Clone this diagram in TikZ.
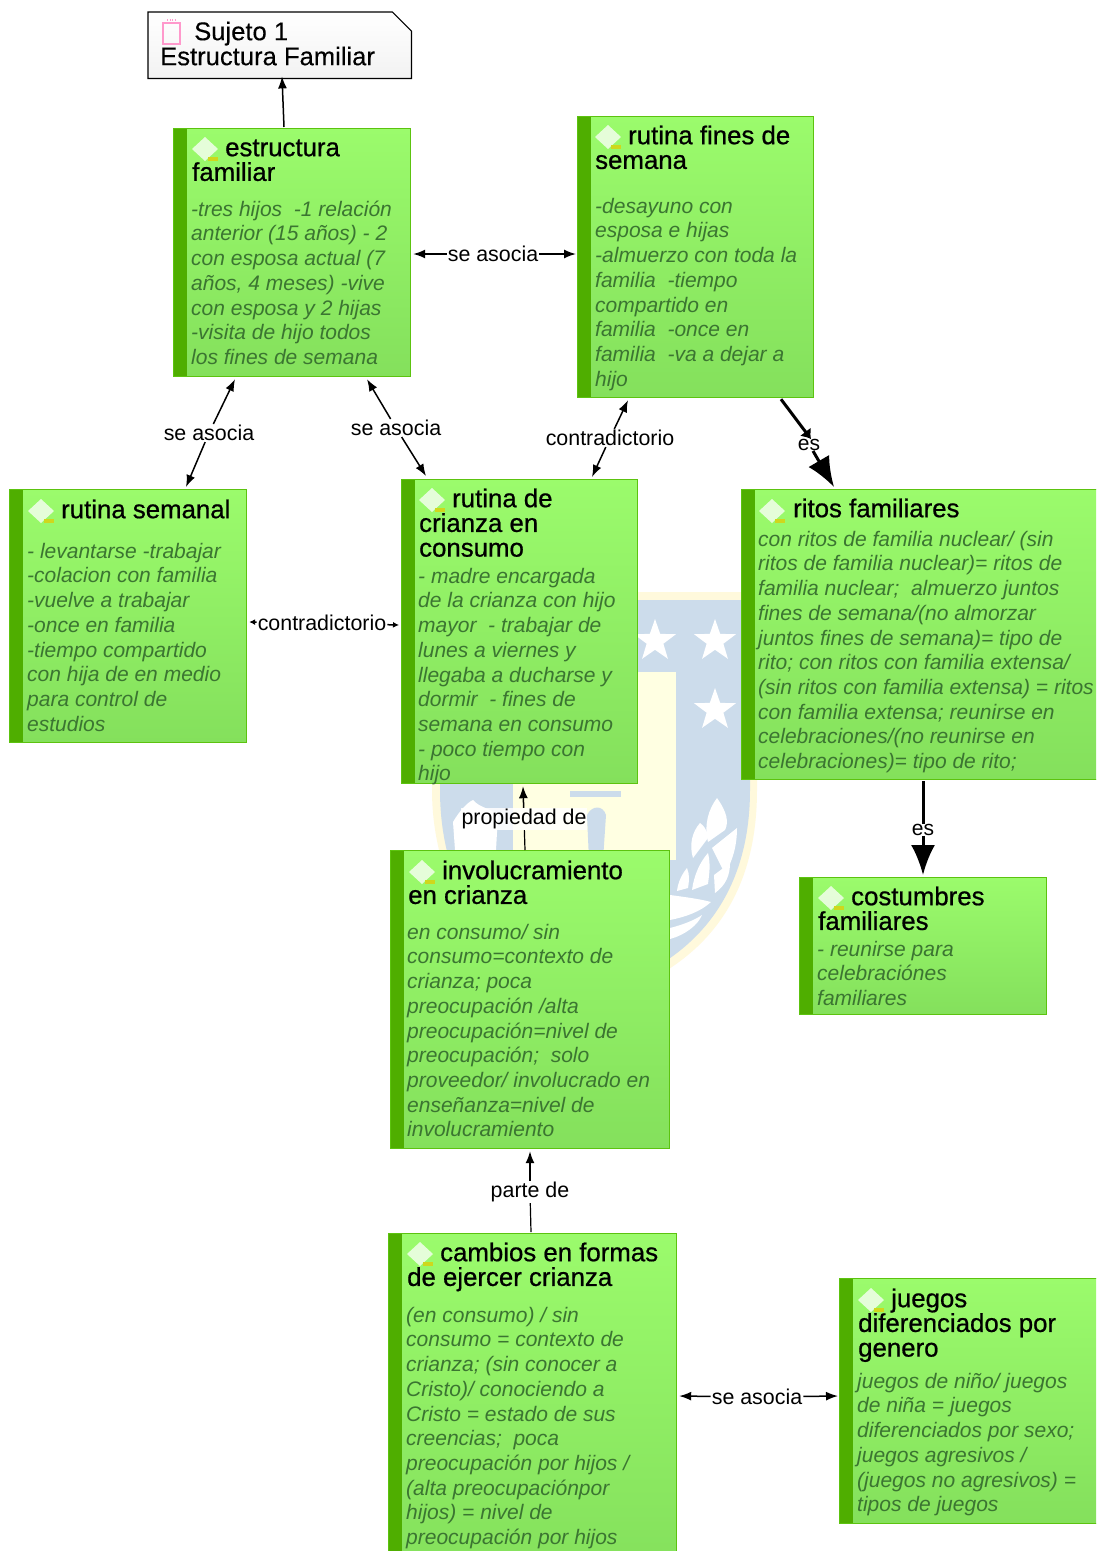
\documentclass[tikz,border=0pt]{standalone}
\usepackage{fontspec}
\setmainfont{Liberation Sans}
\newfontfamily\ttlfont[FakeBold=0.7]{Liberation Sans}
\newfontfamily\notefont[FakeBold=0.3]{Liberation Sans}
\usetikzlibrary{calc,shapes.geometric,arrows.meta}
\definecolor{gtop}{HTML}{9BFB6C}
\definecolor{gbot}{HTML}{84E05C}
\definecolor{gbar}{HTML}{4FAE00}
\definecolor{gedge}{HTML}{5CC30F}
\definecolor{gbody}{HTML}{3B7531}
\definecolor{wblue}{HTML}{CCDCEB}
\definecolor{wyel}{HTML}{FFF9DC}
\definecolor{wcream}{HTML}{FFFFE2}
\tikzset{
  gbox/.style={draw=gedge,line width=1.2pt,top color=gtop,bottom color=gbot,anchor=north west,inner sep=0pt,
    path picture={\fill[gbar] (path picture bounding box.north west) rectangle ([xshift=13pt]path picture bounding box.south west);}},
  ttl/.style={anchor=north west,inner sep=0pt,align=left,text=black,font=\ttlfont\fontsize{25.8}{24.7}\selectfont},
  bodyt/.style={anchor=north west,inner sep=0pt,align=left,text=gbody,font=\itshape\fontsize{21}{24.7}\selectfont},
  lab/.style={inner sep=1pt,fill=white,fill opacity=.85,text opacity=1,text=black,font=\fontsize{21.4}{24}\selectfont},
  link/.style={draw=black,line width=1.5pt,-{Latex[length=12pt,width=9pt]}},
  thin link/.style={draw=black,line width=1.2pt},
  heavy/.style={draw=black,line width=3pt,-{Latex[length=30pt,width=24pt]}},
  staru/.style={star,star points=5,star point ratio=2.5,fill=white,inner sep=0pt,minimum size=44pt},
  leafw/.style={fill=white},
}
\newcommand{\icn}[2]{%
  \fill[white,opacity=.75] (#1-13,#2) -- (#1,#2-12) -- (#1+13,#2) -- (#1,#2+12) -- cycle;
  \fill[yellow!70!gbar] (#1+3,#2+8) rectangle (#1+13,#2+12);
}
\newcommand{\st}{\rule{0pt}{20pt}}
\begin{document}
\begin{tikzpicture}[x=1pt,y=-1pt]
\clip (0,0) rectangle (1096,1551);
\fill[white] (0,0) rectangle (1096,1551);
% watermark shield
\fill[wyel] (432,592) -- (757,592) -- (757,790) .. controls (757,875) and (725,945) .. (640,985) -- (520,985) .. controls (460,930) and (432,860) .. (432,790) -- cycle;
\fill[wblue] (440,600) -- (750,600) -- (750,790) .. controls (750,870) and (718,940) .. (635,978) -- (525,978) .. controls (465,925) and (440,860) .. (440,790) -- cycle;
\fill[wcream] (513,672) -- (676,672) -- (676,860) -- (513,860) -- cycle;
\fill[wblue] (570,791) rectangle (621,797);
\fill[wblue] (587,815) .. controls (592,805) and (603,805) .. (606,815) -- (603,860) -- (589,860) -- cycle;
\node[staru] (s1) at (655,641) {};
\node[staru] (s2) at (715,641) {};
\node[staru] (s3) at (715,710) {};
\fill[leafw] (717,798) .. controls (727,812) and (729,822) .. (725,830) -- (708,842) .. controls (704,825) and (708,810) .. (717,798) -- cycle;
\fill[leafw] (700,823) .. controls (707,828) and (708,835) .. (708,838) -- (693,858) .. controls (689,845) and (692,832) .. (700,823) -- cycle;
\fill[leafw] (737,828) .. controls (737,845) and (733,860) .. (725,874) -- (712,848) -- cycle;
\fill[leafw] (708,853) .. controls (711,865) and (709,875) .. (708,884) -- (692,890) .. controls (694,875) and (700,862) .. (708,853) -- cycle;
\fill[leafw] (730,863) .. controls (730,875) and (726,885) .. (715,893) -- (714,875) -- cycle;
\fill[leafw] (687,868) .. controls (690,875) and (689,882) .. (688,888) -- (677,891) .. controls (678,882) and (682,874) .. (687,868) -- cycle;
\fill[leafw] (670,895) .. controls (685,897) and (700,899) .. (711,902) .. controls (700,912) and (685,917) .. (670,920) -- cycle;
\fill[leafw] (670,928) .. controls (682,925) and (695,920) .. (702,915) .. controls (698,925) and (685,935) .. (670,939) -- cycle;
\fill[leafw] (453,822) .. controls (460,810) and (468,802) .. (473,800) .. controls (480,808) and (490,808) .. (498,815) -- (496,850) -- (455,850) -- cycle;
% note
\node[minimum width=263pt,minimum height=66pt,inner sep=0pt,anchor=north west] (note) at (148,12) {};
\draw[draw=black,line width=1.2pt,top color=white,bottom color=black!5] (note.north west) -- ($(note.north east)+(-19,0)$) -- ($(note.north east)+(0,19)$) -- (note.south east) -- (note.south west) -- cycle;
\draw[draw=pink!80!magenta,line width=1.1pt] (163,23) rectangle (180,44);
\draw[draw=pink!80!magenta,line width=1.1pt,dash pattern=on 1pt off 1.5pt] (167,20) -- (177,20);
\node[anchor=north west,inner sep=0pt,align=left,font=\notefont\fontsize{25.6}{25}\selectfont] (notet) at (160,20) {\rule{0pt}{20pt}\hspace*{34pt}Sujeto 1\\Estructura Familiar};
% boxes
\node[gbox,minimum width=237pt,minimum height=248pt] (estr) at (173,128) {};
\node[gbox,minimum width=236pt,minimum height=281pt] (fines) at (577,116) {};
\node[gbox,minimum width=237pt,minimum height=253pt] (sem) at (9,489) {};
\node[gbox,minimum width=236pt,minimum height=304pt] (cri) at (401,479) {};
\node[gbox,minimum width=380pt,minimum height=290pt] (rit) at (741,489) {};
\node[gbox,minimum width=279pt,minimum height=298pt] (inv) at (390,850) {};
\node[gbox,minimum width=247pt,minimum height=137pt] (cos) at (799,877) {};
\node[gbox,minimum width=288pt,minimum height=340pt] (cam) at (388,1233) {};
\node[gbox,minimum width=280pt,minimum height=245pt] (jue) at (839,1278) {};
% icons
\icn{205}{149}\icn{608}{137}\icn{41}{511}\icn{432}{500}\icn{772}{511}\icn{422}{872}\icn{831}{898}\icn{420}{1254}\icn{871}{1300}
% titles and bodies
\node[ttl] (t1) at (192,136) {\st\hspace*{33pt}estructura\\familiar};
\node[bodyt] (b1) at (191,196) {\st -tres hijos \ -1 relación\\anterior (15 años) - 2\\con esposa actual (7\\años, 4 meses) -vive\\con esposa y 2 hijas\\-visita de hijo todos\\los fines de semana};
\node[ttl] (t2) at (595,124) {\st\hspace*{33pt}rutina fines de\\semana};
\node[bodyt] (b2) at (595,193) {\st -desayuno con\\esposa e hijas\\-almuerzo con toda la\\familia \ -tiempo\\compartido en\\familia \ -once en\\familia \ -va a dejar a\\hijo};
\node[ttl] (t3) at (28,498) {\st\hspace*{33pt}rutina semanal};
\node[bodyt] (b3) at (27,538) {\st - levantarse -trabajar\\-colacion con familia\\-vuelve a trabajar\\-once en familia\\-tiempo compartido\\con hija de en medio\\para control de\\estudios};
\node[ttl] (t4) at (419,487) {\st\hspace*{33pt}rutina de\\crianza en\\consumo};
\node[bodyt] (b4) at (418,563) {\st - madre encargada\\de la crianza con hijo\\mayor \ - trabajar de\\lunes a viernes y\\llegaba a ducharse y\\dormir \ - fines de\\semana en consumo\\- poco tiempo con\\hijo};
\node[ttl] (t5) at (759,497) {\st\hspace*{34pt}ritos familiares};
\node[bodyt] (b5) at (758,526) {\st con ritos de familia nuclear/ (sin\\ritos de familia nuclear)= ritos de\\familia nuclear; \ almuerzo juntos\\fines de semana/(no almorzar\\juntos fines de semana)= tipo de\\rito; con ritos con familia extensa/\\(sin ritos con familia extensa) = ritos\\con familia extensa; reunirse en\\celebraciones/(no reunirse en\\celebraciones)= tipo de rito;};
\node[ttl] (t6) at (408,859) {\st\hspace*{34pt}involucramiento\\en crianza};
\node[bodyt] (b6) at (407,919) {\st en consumo/ sin\\consumo=contexto de\\crianza; poca\\preocupación /alta\\preocupación=nivel de\\preocupación; \ solo\\proveedor/ involucrado en\\enseñanza=nivel de\\involucramiento};
\node[ttl] (t7) at (818,885) {\st\hspace*{33pt}costumbres\\familiares};
\node[bodyt] (b7) at (817,936) {\st - reunirse para\\celebraciónes\\familiares};
\node[ttl] (t8) at (407,1241) {\st\hspace*{33pt}cambios en formas\\de ejercer crianza};
\node[bodyt] (b8) at (406,1302) {\st (en consumo) / sin\\consumo = contexto de\\crianza; (sin conocer a\\Cristo)/ conociendo a\\Cristo = estado de sus\\creencias; \ poca\\preocupación por hijos /\\(alta preocupaciónpor\\hijos) = nivel de\\preocupación por hijos};
\node[ttl] (t9) at (858,1287) {\st\hspace*{33pt}juegos\\diferenciados por\\genero};
\node[bodyt] (b9) at (857,1368) {\st juegos de niño/ juegos\\de niña = juegos\\diferenciados por sexo;\\juegos agresivos /\\(juegos no agresivos) =\\tipos de juegos};
% connectors
\draw[link] ($(estr.north west)+(111,-1)$) -- ($(note.south west)+(134,-2)$);
\node[lab] (l1) at (493,254) {se asocia};
\draw[link] (l1) -- ($(estr.north east)+(2,126)$);
\draw[link] (l1) -- ($(fines.north west)+(-1,138)$);
\node[lab] (l2) at (209,433) {se asocia};
\draw[link] (l2) -- ($(estr.south west)+(62,2)$);
\draw[link] (l2) -- ($(sem.north west)+(177,-2)$);
\node[lab] (l3) at (396,428) {se asocia};
\draw[link] (l3) -- ($(estr.south west)+(194,2)$);
\draw[link] (l3) -- ($(cri.north west)+(25,-3)$);
\node[lab] (l4) at (610,438) {contradictorio};
\draw[link] (l4) -- ($(fines.south west)+(51,2)$);
\draw[link] (l4) -- ($(cri.north west)+(191,-2)$);
\node[lab] (l5) at (322,623) {contradictorio};
\draw[link,-{Latex[length=6pt,width=6pt]}] (l5) -- ($(sem.north east)+(2,133)$);
\draw[link,-{Latex[length=6pt,width=6pt]}] (l5) -- ($(cri.north west)+(-2,146)$);
\node[lab] (l6) at (524,819) {propiedad de};
\draw[thin link] ($(inv.north west)+(135,0)$) -- (l6);
\draw[link] (l6) -- ($(cri.south west)+(122,2)$);
\node[lab] (l7) at (530,1192) {parte de};
\draw[thin link] ($(cam.north west)+(143,-1)$) -- (l7);
\draw[link] (l7) -- ($(inv.south west)+(140,2)$);
\node[lab] (l8) at (757,1397) {se asocia};
\draw[link] (l8) -- ($(cam.north east)+(2,163)$);
\draw[link] (l8) -- ($(jue.north west)+(-1,118)$);
\coordinate (e1s) at ($(fines.south west)+(204,1)$);
\coordinate (e1t) at ($(rit.north west)+(93,-2)$);
\node[inner sep=0pt,font=\fontsize{21}{24}\selectfont] (l9) at (809,445) {es};
\draw[line width=3pt,-{Latex[length=9pt,width=14pt]}] (e1s) -- ($(l9.north)+(2,0)$);
\draw[heavy] ($(l9.south)+(4,0)$) -- (e1t);
\node[inner sep=0pt,font=\fontsize{21}{24}\selectfont] (l10) at (923,830) {es};
\draw[line width=3pt] ($(rit.south west)+(182,1)$) -- (l10.north);
\draw[heavy] (l10.south) -- ($(cos.north west)+(124,-2)$);
\end{tikzpicture}
\end{document}
